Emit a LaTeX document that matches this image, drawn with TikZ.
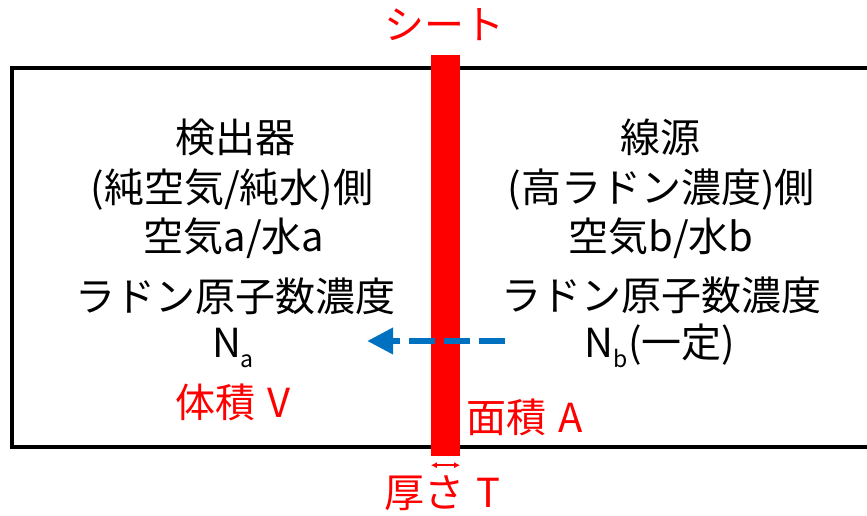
\documentclass[tikz,border=0pt]{standalone}
\usepackage{fontspec}
\setmainfont{Noto Sans CJK JP}
\usetikzlibrary{positioning,arrows.meta}

\definecolor{sheetred}{RGB}{255,0,0}
\definecolor{flowblue}{RGB}{0,112,192}

\tikzstyle{every node}+=[inner sep=0pt,anchor=base,font=\fontsize{40}{46}\selectfont]
\tikzstyle{redlbl}=[text=sheetred]
\tikzstyle{wall}=[line width=4pt]
\tikzstyle{flow}=[flowblue,line width=6.5pt,dash pattern=on 26pt off 9pt,-{Triangle[length=26pt,width=25pt]}]

\newcommand{\lowsub}[1]{\raisebox{-10pt}{\fontsize{23}{23}\selectfont #1}}

\begin{document}
\begin{tikzpicture}[x=1pt,y=-1pt]
\useasboundingbox (0,0) rectangle (867,516);

% container
\coordinate (tr) at (867,68);
\coordinate (tl) at (12,68);
\coordinate (bl) at (12,447);
\coordinate (br) at (867,447);
\draw[wall] (tr) -- (tl) -- (bl) -- (br);

% sheet
\node[fill=sheetred,anchor=center,minimum width=29pt,minimum height=401pt] (sheet) at (445.5,255.5) {};
\node[redlbl] (sheetlbl) at (444,40) {シート};
\node[redlbl] (area) at (525,432) {面積\hspace{0.3em}A};
\node[redlbl] (thick) at (442,507) {厚さ\hspace{0.3em}T};
\coordinate (tw) at ([yshift=-9pt]sheet.south west);
\coordinate (te) at ([yshift=-9pt]sheet.south east);
\draw[sheetred,line width=1.5pt,{Latex[length=6pt,width=6pt]}-{Latex[length=6pt,width=6pt]}] (tw) -- (te);

% detector side
\node (det) at (235,153) {検出器};
\node (detside) at (232,202) {(純空気/純水)側};
\node (meda) at (234,251) {空気a/水a};
\node (conca) at (235,311) {ラドン原子数濃度};
\node (na) at (233,357) {N\lowsub{a}};
\node[redlbl] (vol) at (233,417) {体積\hspace{0.3em}V};

% source side
\node (src) at (660,153) {線源};
\node (srcside) at (661,202) {(高ラドン濃度)側};
\node (medb) at (661,251) {空気b/水b};
\node (concb) at (661,310) {ラドン原子数濃度};
\node (nb) at (660,357) {N\lowsub{b}(一定)};

% diffusion
\coordinate (flowin) at (505,341);
\coordinate (flowout) at (367,341);
\draw[flow] (flowin) -- (flowout);
\end{tikzpicture}
\end{document}
